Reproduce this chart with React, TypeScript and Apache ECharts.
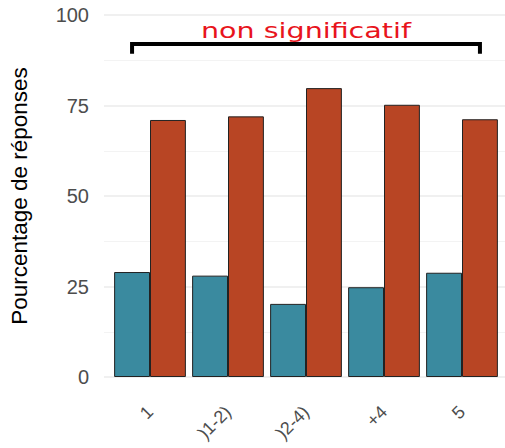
import React, { useEffect, useRef } from "react";
import * as echarts from "echarts";

const categories = ["1", ")1-2)", ")2-4)", "+4", "5"];
const blueValues = [29, 28, 20.2, 24.8, 28.8];
const redValues = [71, 72, 79.8, 75.2, 71.2];
const yTicks = [0, 25, 50, 75, 100];
const annotationText = "non significatif";
const bracketValue = 92;
const bracketTickValue = 89.3;

export default function App() {
  const ref = useRef<HTMLDivElement>(null);
  useEffect(() => {
    if (!ref.current) return;
    const chart = echarts.init(ref.current, null, { renderer: "svg" });
    const gridTop = 15;
    const gridBottom = 71;
    const option: any = {
      animation: false,
      backgroundColor: "#ffffff",
      grid: [
        { left: 103, right: 0, top: gridTop, bottom: gridBottom },
        { left: 111, right: 4, top: gridTop, bottom: gridBottom },
      ],
      xAxis: [
        { type: "value", gridIndex: 0, min: 0, max: 1, show: false },
        {
          type: "category",
          gridIndex: 1,
          data: categories,
          axisLine: { show: false },
          axisTick: { show: false },
          axisLabel: {
            rotate: 45,
            margin: 32,
            align: "right",
            verticalAlign: "middle",
            color: "#4d4d4d",
            fontSize: 18,
            fontFamily: "Liberation Sans, Arial, sans-serif",
            interval: 0,
          },
        },
      ],
      yAxis: [
        {
          type: "value",
          gridIndex: 0,
          min: 0,
          max: 100,
          interval: 25,
          name: "Pourcentage de réponses",
          nameLocation: "middle",
          nameGap: 73,
          nameRotate: 90,
          nameTextStyle: {
            color: "#000000",
            fontSize: 22.5,
            fontFamily: "Liberation Sans, Arial, sans-serif",
          },
          axisLine: { show: false },
          axisTick: { show: false },
          axisLabel: {
            margin: 15,
            color: "#4d4d4d",
            fontSize: 20,
            fontFamily: "Liberation Sans, Arial, sans-serif",
            formatter: (v: number) => (yTicks.includes(v) ? String(v) : ""),
          },
          splitLine: { show: true, lineStyle: { color: "#ebebeb", width: 1.5 } },
          minorTick: { show: false, splitNumber: 2 },
          minorSplitLine: { show: true, lineStyle: { color: "#f3f3f3", width: 1 } },
        },
        {
          type: "value",
          gridIndex: 1,
          min: 0,
          max: 100,
          interval: 25,
          show: false,
        },
      ],
      series: [
        {
          type: "bar",
          xAxisIndex: 1,
          yAxisIndex: 1,
          data: blueValues,
          barWidth: "46%",
          barGap: "0%",
          itemStyle: { color: "#3a8a9f", borderColor: "#222222", borderWidth: 1 },
        },
        {
          type: "bar",
          xAxisIndex: 1,
          yAxisIndex: 1,
          data: redValues,
          barWidth: "46%",
          barGap: "0%",
          itemStyle: { color: "#b84524", borderColor: "#222222", borderWidth: 1 },
        },
      ],
    };
    chart.setOption(option);

    const first = chart.convertToPixel({ xAxisIndex: 1, yAxisIndex: 1 }, [0, bracketValue]);
    const last = chart.convertToPixel({ xAxisIndex: 1, yAxisIndex: 1 }, [categories.length - 1, bracketValue]);
    const tickBottom = chart.convertToPixel({ yAxisIndex: 1 }, bracketTickValue) as number;
    const band = (last[0] - first[0]) / (categories.length - 1);
    const half = band * 0.23;
    const x1 = first[0] - half;
    const x2 = last[0] + half;
    const y = first[1];
    chart.setOption({
      graphic: [
        {
          type: "polyline",
          shape: { points: [[x1, tickBottom], [x1, y], [x2, y], [x2, tickBottom]] },
          style: { stroke: "#000000", lineWidth: 4, fill: null },
          z: 100,
        },
        {
          type: "text",
          x: (x1 + x2) / 2,
          y: y - 13,
          scaleX: 1.36,
          style: {
            text: annotationText,
            fill: "#e8141c",
            fontSize: 21,
            fontFamily: "DejaVu Sans, Verdana, sans-serif",
            align: "center",
            verticalAlign: "middle",
          },
          z: 100,
        },
      ],
    });
    return () => chart.dispose();
  }, []);
  return (
    <div
      ref={ref}
      style={{ position: "fixed", left: 0, top: 0, width: 505, height: 448 }}
    />
  );
}
